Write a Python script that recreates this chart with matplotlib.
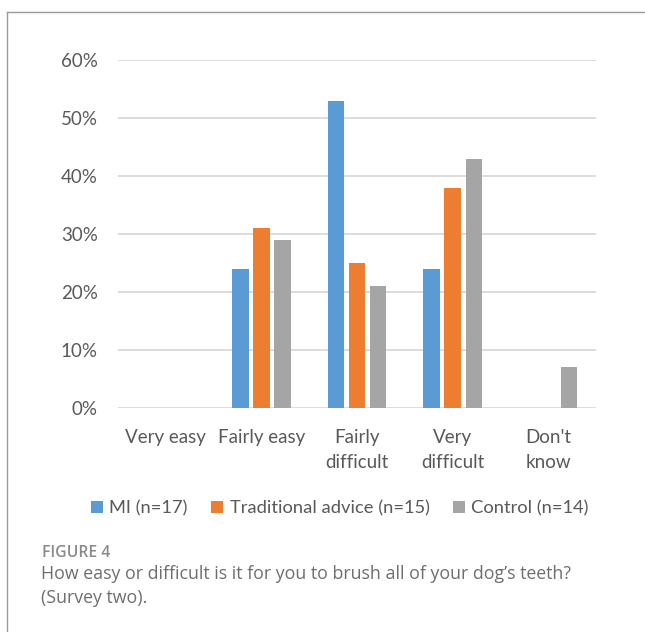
import numpy as np
import matplotlib.pyplot as plt
from matplotlib.patches import Patch
from matplotlib.lines import Line2D

# data (percent)
categories = ["Very easy", "Fairly easy", "Fairly\ndifficult", "Very\ndifficult", "Don't\nknow"]
mi = [0, 24, 53, 24, 0]
trad = [0, 31, 25, 38, 0]
control = [0, 29, 21, 43, 7]
series_names = ["MI (n=17)", "Traditional advice (n=15)", "Control (n=14)"]
colors = ["#5B9BD5", "#ED7D31", "#A5A5A5"]
yticks = [0, 10, 20, 30, 40, 50, 60]

plt.rcParams['font.family'] = ['Lato', 'DejaVu Sans']

fig = plt.figure(figsize=(6.45, 6.32), dpi=100)
ax = fig.add_axes([0.183, 0.3544, 0.741, 0.5506])

x = np.arange(len(categories))
w = 0.17
step = 0.22
for i, vals in enumerate([mi, trad, control]):
    ax.bar(x + (i - 1) * step, vals, width=w, color=colors[i], zorder=3)

ax.set_xlim(-0.5, len(categories) - 0.5)
ax.set_ylim(0, 60)
ax.set_yticks(yticks)
ax.set_yticklabels(["{}%".format(t) for t in yticks])
ax.set_xticks(x)
ax.set_xticklabels(categories, linespacing=1.6)
ax.yaxis.grid(True, color="#D9D9D9", linewidth=1.3, zorder=0)
for s in ax.spines.values():
    s.set_visible(False)
ax.tick_params(axis='both', length=0, labelsize=13.5, labelcolor="#595959")
ax.tick_params(axis='y', pad=14.5)
ax.tick_params(axis='x', pad=15)

handles = [Patch(facecolor=c, edgecolor='none') for c in colors]
fig.legend(handles, series_names, loc='center', bbox_to_anchor=(0.527, 0.196), ncol=3,
           frameon=False, fontsize=13.2, labelcolor="#595959", handlelength=0.65,
           handleheight=0.65, handletextpad=0.35, columnspacing=1.28)

# caption
cap_font = ['Open Sans', 'DejaVu Sans']
fig.text(42 / 645, 1 - 553 / 632, "FIGURE 4", fontsize=11.3, color="#8a8a8a",
         family=cap_font, fontweight='semibold', va='center')
fig.text(41 / 645, 1 - 586 / 632,
         "How easy or difficult is it for you to brush all of your dog\u2019s teeth?\n(Survey two).",
         fontsize=12.8, color="#6e6e6e", family=cap_font, va='center',
         linespacing=1.4)

# frame lines (top and left)
fig.add_artist(Line2D([7 / 645, 1], [1 - 12 / 632, 1 - 12 / 632], color="#9a9a9a", lw=1))
fig.add_artist(Line2D([7 / 645, 7 / 645], [0, 1 - 12 / 632], color="#9a9a9a", lw=1))

fig.savefig("out.png", dpi=100)
